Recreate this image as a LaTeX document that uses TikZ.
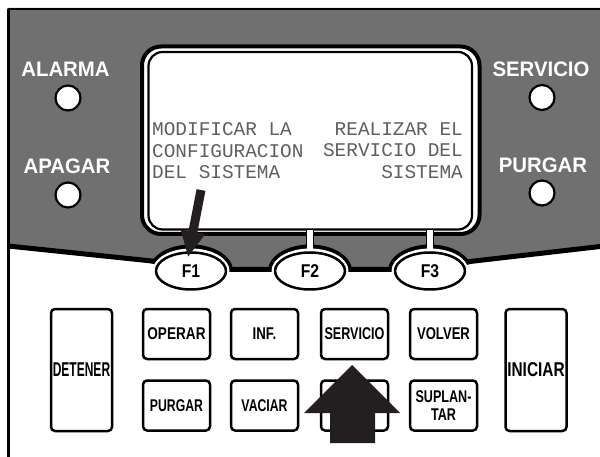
\documentclass[tikz,border=0pt]{standalone}
\usepackage{fontspec}
\setmainfont{Liberation Sans}
\newfontfamily\lcdfont{Liberation Mono}
\usepackage{graphicx}
\usetikzlibrary{shapes.geometric,arrows.meta}

\definecolor{panelgray}{RGB}{112,112,112}
\definecolor{lcdgray}{RGB}{95,95,95}
\definecolor{arrowblack}{RGB}{35,31,32}

\newcommand{\sq}[2]{\scalebox{#1}[1]{#2}}

\tikzset{
  key/.style={draw, line width=2.5pt, rounded corners=4pt, fill=white,
    minimum width=67pt, minimum height=50pt, inner sep=0pt, align=center,
    font=\bfseries\fontsize{17}{18.5}\selectfont},
  tallkey/.style={key, minimum width=61pt, minimum height=122pt,
    font=\bfseries\fontsize{20}{20}\selectfont},
  fkey/.style={ellipse, draw, line width=2.5pt, fill=white,
    minimum width=70pt, minimum height=37pt, inner sep=0pt,
    font=\bfseries\fontsize{18.5}{18.5}\selectfont},
  led/.style={circle, draw, line width=2.2pt, fill=white,
    minimum size=25pt, inner sep=0pt},
  panellabel/.style={text=white, inner sep=0pt, anchor=base,
    font=\bfseries\fontsize{21}{21}\selectfont},
  lcdtext/.style={text=lcdgray, inner sep=0pt,
    font=\lcdfont\fontsize{19.4}{21.7}\selectfont}
}

\begin{document}
\begin{tikzpicture}[x=1pt, y=-1pt, line join=round]

\useasboundingbox (0,0) rectangle (600,457);

% panel
\fill[panelgray] (8,8) -- (600,8) -- (600,246.5) -- (470,261.5) -- (430,269.5)
  -- (191,269.5) -- (152,261) -- (8,246) -- cycle;
\draw[line width=5pt] (8,246) -- (152,261) -- (191,269.5) -- (430,269.5)
  -- (470,261.5) -- (600,246.5);

\draw[line width=2.5pt] (8.3,457) -- (8.3,9) -- (600,9);

% screen
\draw[line width=4pt, fill=white, rounded corners=19pt] (142,46.5) rectangle (479.5,234);
\draw[line width=2.2pt, rounded corners=14pt] (148.5,52) rectangle (472,229.5);

\node (lcdleft) at (152,122.2) [lcdtext, anchor=north west, align=left]
  {MODIFICAR LA\\CONFIGURACION\\DEL SISTEMA};
\node (lcdright) at (463,122.2) [lcdtext, anchor=north east, align=right]
  {REALIZAR EL\\SERVICIO DEL\\SISTEMA};

% F keys
\coordinate (f1c) at (191,271);
\coordinate (f2c) at (310,271);
\coordinate (f3c) at (430,271);

\begin{scope}
\clip (0,0) -- (600,0) -- (600,249) -- (470,264) -- (430,272) -- (191,272)
  -- (152,263.5) -- (0,248.5) -- cycle;
\fill (f1c) ellipse [x radius=42pt, y radius=26.5pt];
\fill (f2c) ellipse [x radius=42pt, y radius=26.5pt];
\fill (f3c) ellipse [x radius=42pt, y radius=26.5pt];
\end{scope}

\draw[line width=1.5pt, fill=white] (306.5,229.5) rectangle (313.5,250);
\draw[line width=1.5pt, fill=white] (426.5,229.5) rectangle (433.5,250);

\fill[white] (f1c) ellipse [x radius=38.5pt, y radius=22.5pt];
\fill[white] (f2c) ellipse [x radius=38.5pt, y radius=22.5pt];
\fill[white] (f3c) ellipse [x radius=38.5pt, y radius=22.5pt];

\node (f1) at (f1c) [fkey] {\sq{.85}{F1}};
\node (f2) at (f2c) [fkey] {\sq{.85}{F2}};
\node (f3) at (f3c) [fkey] {\sq{.85}{F3}};

% lamps
\node (alarma) at (65.5,77) [panellabel] {\sq{.97}{ALARMA}};
\node (alarmaled) at (68,98) [led] {};
\node (apagar) at (67,174) [panellabel] {\sq{.97}{APAGAR}};
\node (apagarled) at (68,195) [led] {};
\node (servlamp) at (541,77) [panellabel] {\sq{.97}{SERVICIO}};
\node (servled) at (542,97.5) [led] {};
\node (purglamp) at (543,173) [panellabel] {\sq{.97}{PURGAR}};
\node (purgled) at (542,193) [led] {};

% keypad
\node (detener) at (81.5,370) [tallkey] {\sq{.6}{DETENER}};
\node (operar) at (176.5,334) [key] {\sq{.8}{OPERAR}};
\node (inf) at (264.5,334) [key] {\sq{.78}{INF.}};
\node (servicio) at (354.5,334) [key] {\sq{.74}{SERVICIO}};
\node (volver) at (443.5,334) [key] {\sq{.77}{VOLVER}};
\node (purgar) at (176.5,405.5) [key] {\sq{.72}{PURGAR}};
\node (vaciar) at (264.5,405.5) [key] {\sq{.72}{VACIAR}};
\node (oculto) at (354.5,405.5) [key] {};
\node (suplantar) at (443.5,405.5) [key] {\sq{.74}{SUPLAN-}\\\sq{.74}{TAR}};
\node (iniciar) at (536,370) [tallkey] {\sq{.77}{INICIAR}};

% pointers
\coordinate (pointer) at (201,190);
\draw[arrowblack, line width=9pt, -{Triangle[length=26pt, width=23pt]}]
  (pointer) -- ([xshift=-3pt, yshift=-6pt]f1.north);

\fill[arrowblack] (352,365) -- (400,413) -- (375,413) -- (375,443) -- (330,443)
  -- (330,413) -- (304,413) -- cycle;

\end{tikzpicture}
\end{document}
